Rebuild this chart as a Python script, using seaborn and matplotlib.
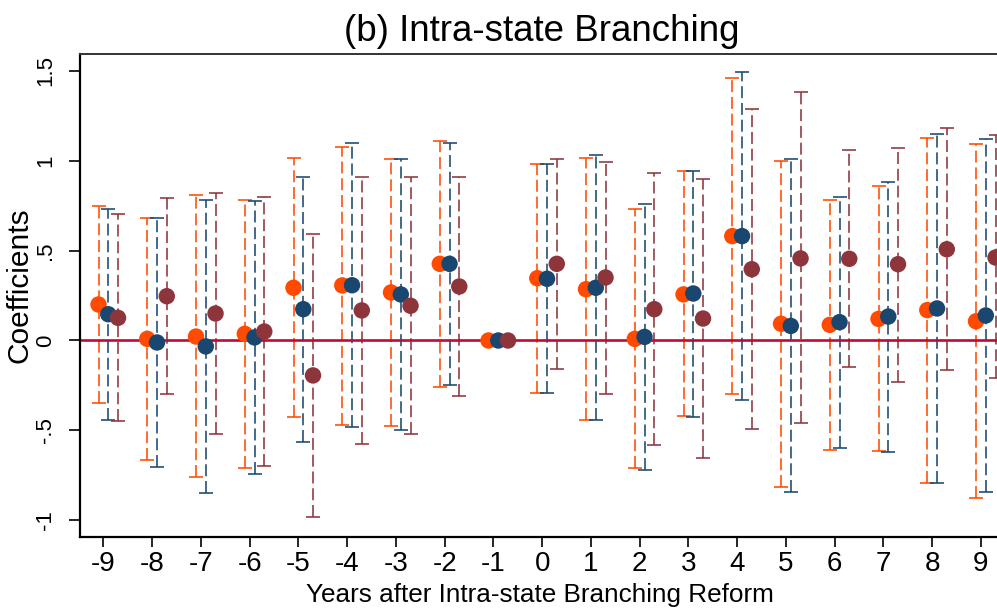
import numpy as np
import pandas as pd
import matplotlib
matplotlib.use("Agg")
import matplotlib.pyplot as plt
import seaborn as sns

# Event-time coefficients with 95% confidence bounds for three specifications
years = list(range(-9, 10))

coef_orange = [0.200, 0.009, 0.022, 0.037, 0.293, 0.306, 0.267, 0.426, 0.0,
               0.346, 0.285, 0.009, 0.256, 0.580, 0.093, 0.087, 0.120, 0.169, 0.107]
upper_orange = [0.748, 0.681, 0.806, 0.783, 1.013, 1.074, 1.009, 1.111, 0.0,
                0.983, 1.015, 0.730, 0.939, 1.456, 1.000, 0.781, 0.856, 1.126, 1.091]
lower_orange = [-0.346, -0.665, -0.756, -0.709, -0.424, -0.467, -0.476, -0.257, 0.0,
                -0.291, -0.441, -0.711, -0.422, -0.298, -0.815, -0.607, -0.613, -0.789, -0.874]

coef_navy = [0.146, -0.011, -0.033, 0.017, 0.174, 0.307, 0.256, 0.426, 0.0,
             0.343, 0.293, 0.020, 0.261, 0.580, 0.081, 0.102, 0.133, 0.178, 0.139]
upper_navy = [0.731, 0.681, 0.780, 0.776, 0.911, 1.096, 1.006, 1.100, 0.0,
              0.980, 1.030, 0.759, 0.944, 1.493, 1.006, 0.798, 0.883, 1.148, 1.120]
lower_navy = [-0.439, -0.702, -0.846, -0.743, -0.563, -0.483, -0.498, -0.248, 0.0,
              -0.294, -0.444, -0.717, -0.426, -0.333, -0.841, -0.600, -0.617, -0.793, -0.844]

coef_maroon = [0.126, 0.246, 0.150, 0.050, -0.194, 0.167, 0.193, 0.300, 0.0,
               0.426, 0.350, 0.174, 0.122, 0.396, 0.456, 0.454, 0.424, 0.507, 0.461]
upper_maroon = [0.704, 0.793, 0.820, 0.798, 0.589, 0.911, 0.909, 0.907, 0.0,
                1.006, 0.993, 0.930, 0.896, 1.287, 1.378, 1.057, 1.072, 1.183, 1.139]
lower_maroon = [-0.450, -0.300, -0.517, -0.696, -0.978, -0.576, -0.520, -0.307, 0.0,
                -0.156, -0.296, -0.583, -0.652, -0.493, -0.461, -0.150, -0.228, -0.165, -0.207]

specs = ["spec1", "spec2", "spec3"]
spec_colors = {"spec1": "#FF4A00", "spec2": "#1A476F", "spec3": "#8E353C"}
spec_shift = {"spec1": -0.1, "spec2": 0.1, "spec3": 0.3}

series = {
    "spec1": (coef_orange, lower_orange, upper_orange),
    "spec2": (coef_navy, lower_navy, upper_navy),
    "spec3": (coef_maroon, lower_maroon, upper_maroon),
}

rows = []
for spec in specs:
    c, lo, hi = series[spec]
    for yr, cv, lv, hv in zip(years, c, lo, hi):
        rows.append({"year": yr, "spec": spec, "coef": cv, "lo": lv, "hi": hv,
                     "xpos": yr + spec_shift[spec]})
df = pd.DataFrame(rows)

sns.set_theme(style="white")
plt.rcParams["font.family"] = ["Liberation Sans", "DejaVu Sans"]

W, H = 997, 609
fig = plt.figure(figsize=(W / 100, H / 100), dpi=100)
ax = fig.add_axes([80 / W, 1 - 537 / H, 1 - 80 / W, (537 - 54) / H])

# Confidence intervals: dashed vertical bars with solid caps
for spec in specs:
    sub = df[(df["spec"] == spec) & (df["hi"] > df["lo"])]
    eb = ax.errorbar(sub["xpos"], sub["coef"],
                     yerr=[sub["coef"] - sub["lo"], sub["hi"] - sub["coef"]],
                     fmt="none", ecolor=spec_colors[spec], elinewidth=1.15,
                     capsize=4.8, capthick=1.15, zorder=2)
    eb[2][0].set_linestyle((0, (7.5, 3.0)))

ax.axhline(0, color="#C00A35", lw=1.9, zorder=2.5)

sns.scatterplot(data=df, x="xpos", y="coef", hue="spec", hue_order=specs,
                palette=spec_colors, s=140, linewidth=0, legend=False,
                zorder=3, ax=ax)

ax.set_xlim(-9.48, 9.33)
ax.set_ylim(-1.0917, 1.5917)

ax.set_xticks(years)
ax.set_xticklabels([str(y) for y in years], fontsize=20)
yt = [-1, -0.5, 0, 0.5, 1, 1.5]
ax.set_yticks(yt)
ax.set_yticklabels(["-1", "-.5", "0", ".5", "1", "1.5"], fontsize=16,
                   rotation=90, va="center")

ax.tick_params(axis="x", direction="out", length=7, width=1.2, pad=3,
               color="black", labelcolor="black", bottom=True)
ax.tick_params(axis="y", direction="out", length=8, width=1.2, pad=9,
               color="black", labelcolor="black", left=True)

for side in ["left", "bottom"]:
    ax.spines[side].set_color("black")
    ax.spines[side].set_linewidth(1.6)
ax.spines["top"].set_color("#333333")
ax.spines["top"].set_linewidth(1.4)
ax.spines["right"].set_visible(False)

ax.set_xlabel("")
ax.set_ylabel("")

fig.text(542 / W, 1 - 41 / H, "(b) Intra-state Branching", fontsize=26.5,
         ha="center", va="baseline", color="black")
fig.text(540 / W, 1 - 602 / H, "Years after Intra-state Branching Reform",
         fontsize=18.8, ha="center", va="baseline", color="black")
fig.text(20 / W, 1 - 285 / H, "Coefficients", fontsize=21.5, rotation=90,
         ha="center", va="center", color="black")

fig.savefig("out.png", dpi=100, facecolor="white")
